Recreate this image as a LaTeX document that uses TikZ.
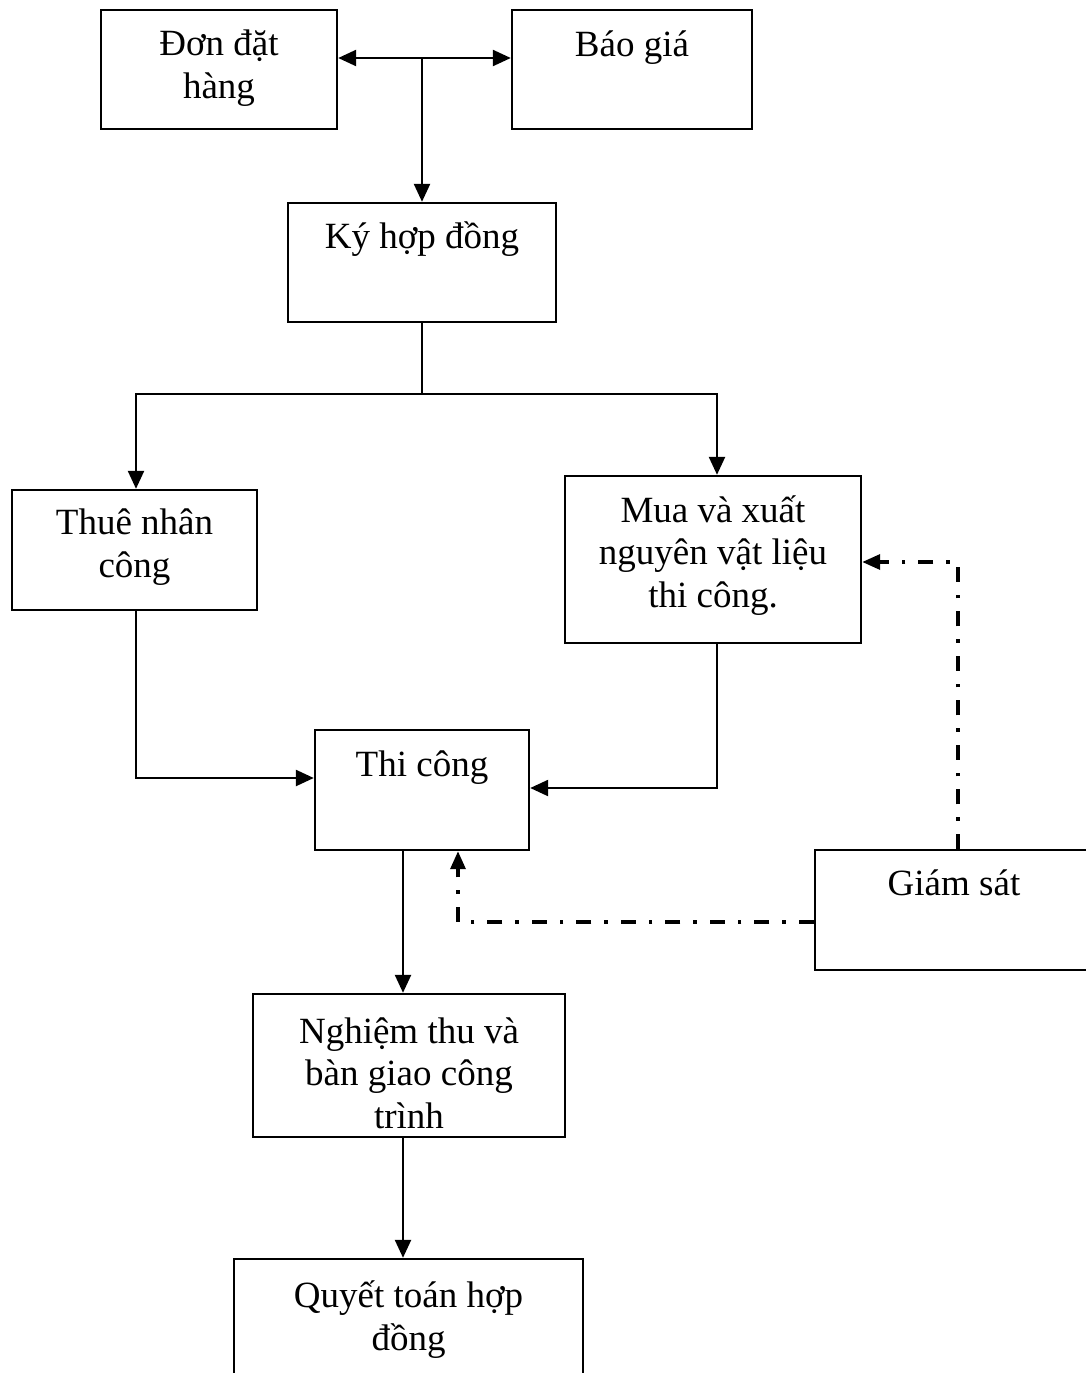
\documentclass[tikz,border=0pt]{standalone}
\usepackage{fontspec}
\setmainfont{Liberation Serif}
\usetikzlibrary{arrows.meta}

\tikzset{
  box/.style={draw, line width=2.4pt, rectangle, inner sep=0pt},
  lbl/.style={anchor=base, align=center, inner sep=0pt,
    font=\fontsize{37}{42.5}\selectfont},
  arr/.style={line width=2.4pt, -{Triangle[length=18pt,width=16pt]}},
  link/.style={line width=2.4pt},
  chk/.style={line width=3.4pt, dash pattern=on 15pt off 13pt on 3.5pt off 13pt,
    -{Triangle[length=18pt,width=15pt]}}
}

\begin{document}
\begin{tikzpicture}[x=1pt, y=-1pt]
  \clip (0,0) rectangle (1086,1373);
  \fill[white] (0,0) rectangle (1086,1373);

  % boxes
  \node[box, minimum width=236pt, minimum height=119pt] (don)    at (219,69.5) {};
  \node[box, minimum width=240pt, minimum height=119pt] (baogia) at (632,69.5) {};
  \node[box, minimum width=268pt, minimum height=119pt] (ky)     at (422,262.5) {};
  \node[box, minimum width=245pt, minimum height=120pt] (thue)   at (134.5,550) {};
  \node[box, minimum width=296pt, minimum height=167pt] (mua)    at (713,559.5) {};
  \node[box, minimum width=214pt, minimum height=120pt] (thi)    at (422,790) {};
  \node[box, minimum width=278pt, minimum height=120pt] (giamsat) at (954,910) {};
  \node[box, minimum width=312pt, minimum height=143pt] (nghiem) at (409,1065.5) {};
  \node[box, minimum width=349pt, minimum height=160pt] (quyet)  at (408.5,1339) {};

  % labels (anchored at the baseline of the last line)
  \node[lbl] (tdon)    at (219,98)    {Đơn đặt\\hàng};
  \node[lbl] (tbaogia) at (632,56)    {Báo giá};
  \node[lbl] (tky)     at (422,248)   {Ký hợp đồng};
  \node[lbl] (tthue)   at (134.5,577) {Thuê nhân\\công};
  \node[lbl] (tmua)    at (713,607)   {Mua và xuất\\nguyên vật liệu\\thi công.};
  \node[lbl] (tthi)    at (422,776)   {Thi công};
  \node[lbl] (tgiam)   at (954,895)   {Giám sát};
  \node[lbl] (tnghiem) at (409,1128)  {Nghiệm thu và\\bàn giao công\\trình};
  \node[lbl] (tquyet)  at (408.5,1350) {Quyết toán hợp\\đồng};

  % helper coordinates for routing
  \coordinate (top)   at (422,58);
  \coordinate (split) at (422,394);
  \coordinate (xl)    at (136,0);
  \coordinate (xr)    at (717,0);
  \coordinate (xd)    at (403,0);
  \coordinate (yl)    at (0,778);
  \coordinate (yr)    at (0,788);
  \coordinate (xg)    at (458,0);
  \coordinate (yg)    at (0,922);
  \coordinate (xv)    at (958,0);
  \coordinate (ym)    at (0,562);

  % order and quote to contract
  \draw[line width=2.4pt, {Triangle[length=18pt,width=16pt]}-{Triangle[length=18pt,width=16pt]}]
    (don.east |- top) -- (baogia.west |- top);
  \draw[arr] (top) -- (ky.north);

  % contract splits into labour and materials
  \draw[link] (ky.south) -- (split);
  \draw[arr] (split) -| (thue.north -| xl);
  \draw[arr] (split) -| (mua.north -| xr);

  % both feed construction
  \draw[arr] (thue.south -| xl) |- (thi.west |- yl);
  \draw[arr] (mua.south -| xr) |- (thi.east |- yr);

  % construction to handover to settlement
  \draw[arr] (thi.south -| xd) -- (nghiem.north -| xd);
  \draw[arr] (nghiem.south -| xd) -- (quyet.north -| xd);

  % supervision
  \draw[chk] (giamsat.west |- yg) -| (thi.south -| xg);
  \draw[chk] (giamsat.north -| xv) |- (mua.east |- ym);
\end{tikzpicture}
\end{document}
